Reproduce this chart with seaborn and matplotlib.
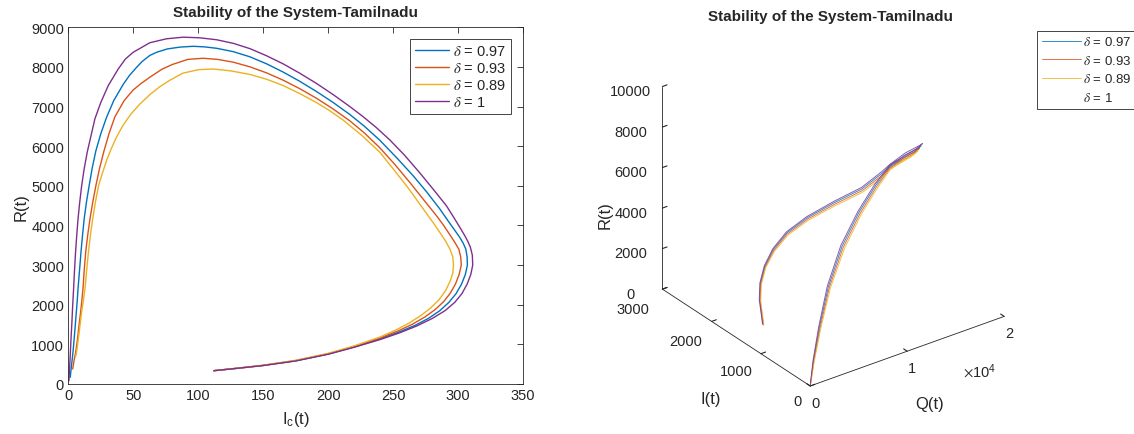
import numpy as np
import pandas as pd
import matplotlib
matplotlib.use('Agg')
import matplotlib.pyplot as plt
import seaborn as sns

sns.set_style('white')
plt.rcParams['font.family'] = ['Liberation Sans', 'DejaVu Sans']
plt.rcParams['mathtext.fontset'] = 'stix'

# fractional orders and their legend labels (MATLAB default colour order)
deltas = ['0.97', '0.93', '0.89', '1']
labels = [r'$\delta$ = ' + d for d in deltas]
colors = ['#0072BD', '#D95319', '#EDB120', '#7E2F8E']

# ---- left panel: R(t) against Ic(t) ----
ic_097 = [112, 130, 150, 175, 200, 220, 240, 255, 267, 277.5, 286, 293, 298.5, 302.7, 305.6, 307.2,
          307, 306, 304, 301.3, 297, 292, 286, 276, 265.4, 253, 239.8, 228, 216.7, 204, 191, 178, 165.4,
          152.5, 139.8, 127, 114.2, 105, 96.2, 86, 76, 68, 62.8, 57, 52.6, 47, 42.3, 35, 29.5, 25,
          21.3, 18.5, 16.2, 14, 12.3, 11, 9.8, 8.7, 7.6, 6.8, 5.9, 5, 4.1, 3.3, 2.6, 1.5]
r_097 = [335, 396, 467, 585, 755, 935, 1140, 1315, 1480, 1660, 1850, 2060, 2280, 2520, 2760, 3000,
         3200, 3400, 3550, 3700, 3900, 4130, 4415, 4840, 5256, 5700, 6150, 6500, 6800, 7100, 7380, 7640, 7870,
         8080, 8255, 8385, 8470, 8505, 8520, 8500, 8452, 8369, 8290, 8140, 7990, 7780, 7560, 7150, 6730, 6310,
         5890, 5460, 5030, 4590, 4180, 3760, 3330, 2880, 2440, 2060, 1690, 1320, 967, 700, 500, 168]

ic_093 = [112, 130, 150, 175, 200, 220, 240, 254, 265, 274.5, 282.5, 289, 294, 298, 300.8, 302.5,
          302.1, 300.6, 297.5, 293, 288.5, 283.4, 273, 262.8, 251.3, 239.8, 228, 216.7, 203.8, 191, 178.2,
          165.4, 152.6, 140, 126.9, 115, 103.8, 92, 80, 72, 62.8, 56, 50, 43, 35.9, 31.5, 27.5, 24, 21.3,
          18.8, 16.7, 14.9, 13.4, 12.3, 11.4, 10.3, 9.1, 7.9, 6.8, 5.6, 4.5, 3.4]
r_093 = [335, 397, 470, 590, 762, 945, 1160, 1340, 1510, 1690, 1880, 2080, 2290, 2520, 2760, 3000,
         3200, 3400, 3575, 3800, 4020, 4246, 4670, 5089, 5540, 5960, 6330, 6640, 6940, 7210, 7450,
         7665, 7850, 8000, 8120, 8190, 8218, 8190, 8060, 7940, 7740, 7580, 7420, 7150, 6740, 6330, 5880, 5430, 5010,
         4580, 4163, 3740, 3323, 2880, 2440, 2050, 1700, 1370, 1052, 780, 600, 378]

ic_089 = [112, 130, 150, 175, 200, 220, 240, 252, 262.5, 271.5, 279, 285.5, 290.5, 294, 296, 296.5,
          296, 293.8, 290.5, 286.5, 281.5, 276, 270.5, 265.5, 260.3, 250, 239.8, 226, 211.5, 201, 191, 178,
          165.4, 152.5, 139.8, 125, 111.5, 100, 88, 78, 70, 62.8, 55, 48, 42, 37, 33, 29.6, 26.3, 23.3,
          20.8, 18.8, 17, 15.5, 14.2, 13, 11.6, 10.2, 9, 7.8, 6.8, 5.9]
r_089 = [335, 398, 473, 597, 772, 960, 1185, 1360, 1540, 1730, 1920, 2130, 2360, 2600, 2800, 3000,
         3200, 3400, 3600, 3800, 4040, 4290, 4540, 4770, 5003, 5430, 5846, 6270, 6660, 6900, 7100, 7330,
         7530, 7690, 7810, 7900, 7947, 7930, 7840, 7660, 7490, 7300, 7060, 6800, 6520, 6220, 5930, 5650, 5320, 5003,
         4570, 4163, 3740, 3323, 2880, 2440, 2100, 1800, 1470, 1150, 900, 714]

ic_100 = [112, 130, 150, 175, 200, 220, 240, 255, 268, 280, 290, 297.5, 303, 307, 309.8, 311.3,
          311, 309.5, 307.5, 305.2, 300.5, 296, 291, 281, 270.5, 259, 247.5, 237, 226.9, 216.7, 204, 191, 178,
          165.4, 152.5, 139.8, 127, 114.2, 101, 88.5, 75.7, 62.8, 50, 44, 38.5, 30.8, 25, 20.5, 14.6, 12.2,
          10.3, 8.8, 7.5, 6.5, 5.6, 4.8, 4.1, 3.4, 2.8, 2.1, 1.5, 0.9, 0.5]
r_100 = [335, 395, 465, 580, 750, 925, 1120, 1290, 1460, 1650, 1850, 2060, 2280, 2520, 2760, 3000,
         3250, 3450, 3600, 3742, 4000, 4240, 4499, 4909, 5329, 5766, 6157, 6472, 6745, 7000, 7298, 7584, 7844,
         8077, 8283, 8461, 8595, 8685, 8735, 8750, 8710, 8610, 8370, 8200, 7950, 7530, 7100, 6690, 5850, 5420,
         5000, 4580, 4160, 3740, 3320, 2860, 2400, 1980, 1560, 1130, 710, 330, 80]

# ---- right panel: (Q, I, R) trajectories, estimated from the 3-D view ----
i3_097 = [1430, 1680, 1732, 1718, 1634, 1510, 1346, 1092, 806, 690, 660, 636, 626, 614, 572, 432, 290, 150, 78, 49, 26, 16, 2]
q3_097 = [2400, 3330, 3660, 4040, 4490, 5270, 6540, 8050, 9390, 10850, 11560, 12950, 14400, 14560, 13650, 10460, 8230, 5790, 3680, 2120, 1080, 410, 25]
r3_097 = [345, 990, 1680, 2470, 3360, 4250, 5040, 5930, 6820, 7510, 7810, 8150, 8300, 8380, 8310, 8380, 8030, 7340, 6140, 4460, 2680, 1140, 60]

i3_093 = [1422, 1672, 1726, 1714, 1631, 1508, 1345, 1091, 806, 690, 661, 637, 627, 616, 574, 434, 291, 150, 77, 48, 25, 15, 2]
q3_093 = [2405, 3340, 3680, 4070, 4530, 5310, 6580, 8090, 9420, 10860, 11550, 12880, 14250, 14400, 13500, 10480, 8330, 5910, 3800, 2220, 1150, 450, 30]
r3_093 = [340, 975, 1655, 2440, 3310, 4190, 4970, 5850, 6730, 7410, 7710, 8040, 8190, 8280, 8210, 8300, 7950, 7270, 6070, 4410, 2650, 1130, 60]

i3_089 = [1415, 1664, 1720, 1710, 1628, 1506, 1344, 1090, 806, 690, 662, 638, 628, 618, 576, 436, 292, 150, 76, 47, 24, 14, 2]
q3_089 = [2410, 3350, 3700, 4100, 4570, 5360, 6630, 8130, 9450, 10870, 11540, 12800, 14100, 14250, 13350, 10500, 8430, 6020, 3920, 2320, 1220, 490, 35]
r3_089 = [335, 960, 1630, 2410, 3260, 4130, 4900, 5770, 6640, 7310, 7610, 7930, 8080, 8180, 8110, 8220, 7870, 7200, 6000, 4360, 2620, 1120, 60]

i3_100 = [1438, 1688, 1738, 1722, 1637, 1512, 1347, 1093, 806, 690, 660, 635, 625, 612, 570, 430, 289, 150, 79, 50, 27, 17, 2]
q3_100 = [2396, 3320, 3644, 4018, 4458, 5235, 6502, 8012, 9363, 10836, 11571, 13012, 14520, 14704, 13769, 10430, 8132, 5676, 3561, 2015, 1009, 372, 20]
r3_100 = [350, 1000, 1700, 2500, 3400, 4300, 5100, 6000, 6900, 7600, 7900, 8250, 8400, 8470, 8400, 8450, 8100, 7400, 6200, 4500, 2700, 1150, 60]

i_ticks = [0, 1000, 2000, 3000]

ic_all = [ic_097, ic_093, ic_089, ic_100]
r_all = [r_097, r_093, r_089, r_100]
traj3d = [(q3_097, i3_097, r3_097), (q3_093, i3_093, r3_093),
          (q3_089, i3_089, r3_089), (q3_100, i3_100, r3_100)]

rows = []
for lab, ic, r in zip(labels, ic_all, r_all):
    for k, (a, b) in enumerate(zip(ic, r)):
        rows.append({'label': lab, 'step': k, 'Ic': a, 'R': b})
df = pd.DataFrame(rows)

axcol = '#262626'
fig = plt.figure(figsize=(11.34, 4.35), dpi=100)

# left: 2-D phase plot
ax1 = fig.add_axes([0.0602, 0.115, 0.401, 0.82])
sns.lineplot(data=df, x='Ic', y='R', hue='label', hue_order=labels, palette=colors,
             sort=False, estimator=None, linewidth=1.0, ax=ax1)
ax1.set_xlim(0, 350)
ax1.set_ylim(0, 9000)
ax1.set_xticks(np.arange(0, 351, 50))
ax1.set_yticks(np.arange(0, 9001, 1000))
ax1.tick_params(direction='in', top=True, right=True, length=4, width=0.6,
                labelsize=10.5, colors=axcol, pad=3)
for s in ax1.spines.values():
    s.set_color(axcol)
    s.set_linewidth(0.6)
ax1.set_xlabel(r'$\mathregular{I_c(t)}$', fontsize=12, color=axcol, labelpad=5)
ax1.set_ylabel('R(t)', fontsize=12, color=axcol, labelpad=2)
ax1.set_title('Stability of the System-Tamilnadu', fontsize=11, fontweight='bold', pad=8)
h, l = ax1.get_legend_handles_labels()
leg1 = ax1.legend(h, l, loc='upper right', fontsize=10.5, frameon=True, fancybox=False,
                  edgecolor=axcol, framealpha=1, handlelength=2.3, borderaxespad=0.8,
                  labelspacing=0.2, borderpad=0.35, handletextpad=0.3)
leg1.get_frame().set_linewidth(0.6)

# right: 3-D trajectory
ax2 = fig.add_axes([0.53, 0.057, 0.40, 0.93], projection='3d')
ax2.set_proj_type('ortho')
lines3d = []
for (q, i, r), c, lab in zip(traj3d, colors, labels):
    ln, = ax2.plot(q, i, r, color=c, linewidth=0.7, alpha=0.8, label=lab)
    lines3d.append(ln)
ax2.set_xlim(0, 20000)
ax2.set_ylim(0, 3000)
ax2.set_zlim(0, 10000)
ax2.set_xticks([0, 10000, 20000])
ax2.set_xticklabels(['0', '1', '2'])
ax2.set_yticks(i_ticks)
ax2.set_yticklabels([''] * len(i_ticks))
ax2.set_zticks(np.arange(0, 10001, 2000))
ax2.view_init(elev=29, azim=-126.5)
ax2.set_box_aspect((1, 1.03, 0.96))
ax2.grid(False)
for axis in (ax2.xaxis, ax2.yaxis, ax2.zaxis):
    axis.pane.fill = False
    axis.pane.set_edgecolor('none')
    axis.line.set_color(axcol)
    axis.line.set_linewidth(0.6)
    axis._axinfo['tick']['inward_factor'] = 0.0
    axis._axinfo['tick']['outward_factor'] = 0.3
    axis._axinfo['tick']['color'] = axcol
ax2.tick_params(labelsize=10.5, colors=axcol)
ax2.tick_params(axis='x', pad=-3)
ax2.tick_params(axis='z', pad=6)
ax2.set_xlabel('')
ax2.set_ylabel('')
ax2.set_zlabel('')
# I(t) tick labels sit further left than mplot3d puts them, as in the MATLAB view
for val, (px, py) in zip(i_ticks, [(797, 402), (736, 372), (686, 342), (633, 310)]):
    fig.text(px / 1134, 1 - py / 435, str(val), fontsize=10.5, color=axcol,
             ha='center', va='center')
fig.text(930 / 1134, 1 - 405 / 435, 'Q(t)', fontsize=12, color=axcol, ha='center', va='center')
fig.text(711 / 1134, 1 - 400 / 435, 'I(t)', fontsize=12, color=axcol, ha='center', va='center')
fig.text(605 / 1134, 1 - 215 / 435, 'R(t)', fontsize=12, color=axcol, ha='center', va='center',
         rotation=90)
fig.text(963 / 1134, 1 - 372 / 435, r'$\times\mathregular{10^4}$', fontsize=10.5, color=axcol,
         va='center')
fig.text(0.732, 0.96, 'Stability of the System-Tamilnadu', fontsize=11,
         fontweight='bold', ha='center', va='center')
leg2 = fig.legend(lines3d, labels, loc='upper left', bbox_to_anchor=(0.9145, 0.927),
                  borderaxespad=0, fontsize=9.5, frameon=True, fancybox=False, edgecolor=axcol,
                  framealpha=1, handlelength=3.0, labelspacing=0.42, borderpad=0.35,
                  handletextpad=0.15)
leg2.get_frame().set_linewidth(0.6)
leg2.get_lines()[3].set_alpha(0.0)

fig.savefig('out.png', dpi=100)
